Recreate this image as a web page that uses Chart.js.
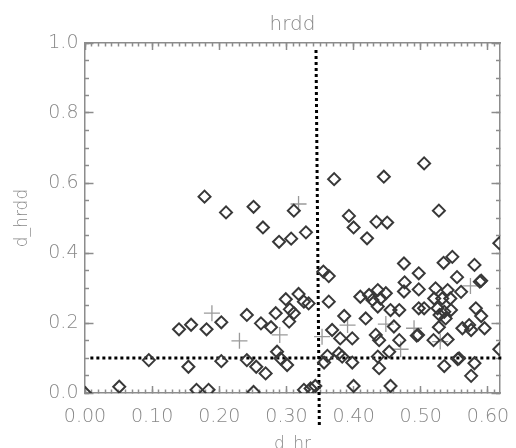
<!DOCTYPE html>
<html>
<head>
<meta charset="utf-8">
<script src="https://cdn.jsdelivr.net/npm/chart.js@4"></script>
<style>
html,body{margin:0;padding:0;background:#fff;}
#wrap{width:516px;height:448px;}
</style>
</head>
<body>
<div id="wrap"><canvas id="c" width="516" height="448"></canvas></div>
<script>
// ---- data ----
const diamondX = [0.000,0.051,0.095,0.140,0.154,0.158,0.166,0.178,0.181,0.184,0.203,0.203,0.210,0.241,0.241,0.251,0.251,0.255,0.262,0.265,
  0.269,0.277,0.284,0.286,0.289,0.291,0.299,0.301,0.304,0.305,0.307,0.311,0.311,0.318,0.326,0.329,0.333,0.326,0.336,0.343,
  0.355,0.363,0.363,0.356,0.361,0.368,0.371,0.378,0.380,0.383,0.386,0.393,0.398,0.398,0.400,0.400,0.410,0.418,0.420,0.423,
  0.428,0.433,0.434,0.436,0.436,0.436,0.438,0.438,0.440,0.445,0.448,0.450,0.453,0.455,0.455,0.460,0.468,0.468,0.476,0.475,
  0.475,0.496,0.494,0.497,0.497,0.497,0.505,0.505,0.519,0.520,0.522,0.525,0.527,0.527,0.528,0.532,0.534,0.535,0.535,0.537,
  0.540,0.540,0.544,0.545,0.547,0.554,0.557,0.555,0.560,0.562,0.572,0.575,0.575,0.580,0.580,0.582,0.590,0.588,0.590,0.595,
  0.617,0.617];
const diamondY = [0.000,0.018,0.094,0.182,0.075,0.195,0.009,0.561,0.182,0.009,0.202,0.091,0.516,0.223,0.094,0.532,0.003,0.075,0.199,0.473,
  0.056,0.188,0.228,0.118,0.432,0.099,0.268,0.080,0.204,0.239,0.441,0.521,0.228,0.283,0.261,0.459,0.256,0.009,0.013,0.020,
  0.347,0.334,0.261,0.087,0.106,0.180,0.611,0.113,0.156,0.104,0.220,0.506,0.156,0.087,0.473,0.020,0.275,0.213,0.442,0.280,
  0.266,0.166,0.489,0.294,0.247,0.104,0.151,0.071,0.270,0.618,0.285,0.487,0.118,0.237,0.020,0.190,0.237,0.151,0.316,0.370,
  0.290,0.166,0.164,0.342,0.296,0.242,0.656,0.242,0.151,0.270,0.299,0.242,0.521,0.188,0.223,0.270,0.372,0.232,0.077,0.213,
  0.294,0.153,0.270,0.237,0.389,0.331,0.099,0.097,0.289,0.185,0.194,0.180,0.049,0.366,0.085,0.242,0.321,0.318,0.220,0.185,
  0.428,0.125];
const crossX = [0.189,0.230,0.290,0.318,0.353,0.391,0.448,0.470,0.490,0.529,0.574];
const crossY = [0.228,0.149,0.166,0.540,0.161,0.194,0.197,0.125,0.185,0.147,0.306];
const vLineX = [0.344,0.349];
const vLineY = [0.98,-0.10];
const hLineX = [0.008,0.62];
const hLineY = [0.10,0.10];
const xMin = 0, xMax = 0.618, xStep = 0.1, xMinor = 0.01;
const yMin = 0, yMax = 1.0, yStep = 0.2, yMinor = 0.05;
const titleText = 'hrdd', xTitle = 'd_hr', yTitle = 'd_hrdd';

// ---- build chart ----
const pts = (xs, ys) => xs.map((x, i) => ({x, y: ys[i]}));
const AX = '#8c8c8c', TXT = '#888888';
const FAM = '"DejaVu Sans", sans-serif';
const isMult = (v, s) => Math.abs(v / s - Math.round(v / s)) < 1e-6;
const TICKFONT = { family: FAM, size: 19, weight: '200' };
const AXFONT = { family: FAM, size: 17, weight: '200' };

// one axis = a tick-mark layer: inward ticks (negative tickLength), no grid lines inside the plot
function axis(dir, pos, step, tickLen, opts) {
  const o = opts || {};
  const isX = dir === 'x';
  return {
    type: 'linear', axis: dir, position: pos,
    min: isX ? xMin : yMin, max: isX ? xMax : yMax,
    weight: o.weight || 0,
    grid: { display: true, drawOnChartArea: false, drawTicks: true, tickLength: tickLen, tickColor: AX, tickWidth: 1.5 },
    border: { display: !!o.border, color: AX, width: 1.5 },
    ticks: Object.assign({ stepSize: step, includeBounds: false, autoSkip: false, maxRotation: 0, display: !!o.labels,
      color: TXT, font: TICKFONT }, o.ticks || {}),
    title: o.title ? { display: true, text: o.title.text, color: TXT, font: AXFONT, padding: o.title.padding } : { display: false },
    afterFit: s => { if (isX) s.height = o.size || 0; else s.width = o.size || 0; }
  };
}

const options = {
  responsive: false, animation: false, devicePixelRatio: 1,
  layout: { padding: { left: 0, right: 16, top: 0, bottom: 0 } },
  plugins: {
    legend: { display: false }, tooltip: { enabled: false },
    title: { display: true, text: titleText, fullSize: false, color: TXT,
      font: { family: FAM, size: 20, weight: '200', lineHeight: 1.2 }, padding: { top: 13, bottom: 6 } }
  },
  events: [],
  scales: {
    // bottom: minor-step axis carries the labels (blank on minor ticks), major-step axis adds the long ticks
    x: axis('x', 'bottom', xMinor, -3.5, { weight: 1, border: true, labels: true, size: 55,
      ticks: { padding: 16.5, callback: v => isMult(v, xStep) ? v.toFixed(2) : '' },
      title: { text: xTitle, padding: { top: 0, bottom: -7 } } }),
    xM: axis('x', 'bottom', xStep, -7),
    xt: axis('x', 'top', xMinor, -3.5, { weight: 1, border: true }),
    xtM: axis('x', 'top', xStep, -7),
    y: axis('y', 'left', yMinor, -4, { weight: 1, border: true, labels: true, size: 85,
      ticks: { padding: 10.5, callback: v => isMult(v, yStep) ? v.toFixed(1) : '' },
      title: { text: yTitle, padding: { top: 12, bottom: 0 } } }),
    yM: axis('y', 'left', yStep, -8.5),
    yr: axis('y', 'right', yMinor, -4, { weight: 1, border: true }),
    yrM: axis('y', 'right', yStep, -8.5)
  }
};

new Chart(document.getElementById('c'), {
  type: 'scatter',
  data: {
    datasets: [
      { label: 'diamonds', data: pts(diamondX, diamondY), pointStyle: 'rectRot', pointRadius: 6, pointHoverRadius: 6,
        borderColor: '#383838', backgroundColor: 'rgba(0,0,0,0)', borderWidth: 2 },
      { label: 'crosses', data: pts(crossX, crossY), pointStyle: 'cross', pointRadius: 8, pointHoverRadius: 8,
        borderColor: '#9a9a9a', backgroundColor: 'rgba(0,0,0,0)', borderWidth: 1.3 },
      { type: 'line', label: 'v', data: pts(vLineX, vLineY), borderColor: '#000', borderWidth: 3, borderDash: [3, 3],
        pointRadius: 0, fill: false, clip: false, showLine: true },
      { type: 'line', label: 'h', data: pts(hLineX, hLineY), borderColor: '#000', borderWidth: 3, borderDash: [3, 3],
        pointRadius: 0, fill: false, clip: false, showLine: true }
    ]
  },
  options
});
</script>
</body>
</html>
